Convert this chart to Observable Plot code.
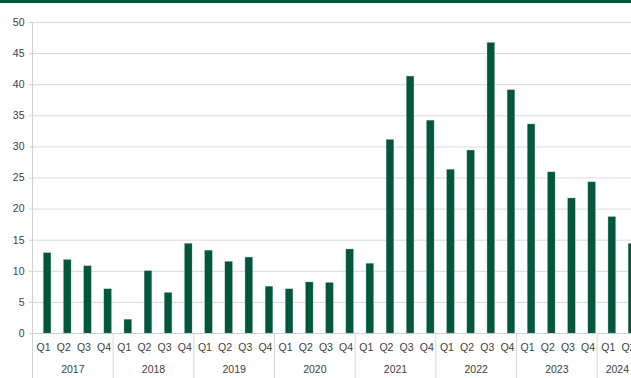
<!DOCTYPE html>
<html><head><meta charset="utf-8">
<script src="https://cdn.jsdelivr.net/npm/d3@7"></script>
<script src="https://cdn.jsdelivr.net/npm/@observablehq/plot@0.6"></script>
<style>
html,body{margin:0;padding:0;background:#fff;overflow:hidden;width:631px;height:378px}
#topbar{height:3px;background:#00573c;width:631px}
#chart svg{display:block}
</style></head><body>
<div id="topbar"></div>
<div id="chart"></div>
<script>
const years = ["2017","2018","2019","2020","2021","2022","2023","2024"];
const quarters = ["Q1","Q2","Q3","Q4"];
const values = [
  12.9, 11.8, 10.8, 7.1,
  2.2, 10.0, 6.5, 14.4,
  13.3, 11.5, 12.2, 7.5,
  7.1, 8.2, 8.1, 13.5,
  11.2, 31.1, 41.3, 34.2,
  26.3, 29.4, 46.7, 39.1,
  33.6, 25.9, 21.7, 24.3,
  18.7, 14.4
];
const yTicks = [0,5,10,15,20,25,30,35,40,45,50];

const green = "#00573c";
const rows = values.map((v, i) => ({
  i, value: v,
  quarter: quarters[i % 4],
  year: years[Math.floor(i / 4)]
}));
const yearRows = years.map((y, k) => {
  const n = rows.filter(r => r.year === y).length;
  return {year: y, start: k * 4, center: k * 4 + n / 2};
});
const nCats = 30;
const font = "'Liberation Sans', Arial, sans-serif";

const chart = Plot.plot({
  width: 631,
  height: 375,
  marginLeft: 32,
  marginRight: 0,
  marginTop: 19,
  marginBottom: 45,
  style: {fontFamily: font, fontSize: "10.5px", color: "#404040", background: "#fff", overflow: "hidden"},
  x: {type: "linear", domain: [0, nCats], range: [32, 637], axis: null},
  y: {domain: [0, 50], ticks: yTicks, axis: null},
  marks: [
    Plot.ruleY(yTicks.filter(t => t > 0), {x1: 0, x2: nCats, stroke: "#d9d9d9", strokeWidth: 1}),
    Plot.ruleY([0], {x1: 0, x2: nCats, stroke: "#d0d0d0", strokeWidth: 1}),
    Plot.axisY({ticks: yTicks, tickSize: 3, tickPadding: 5, stroke: "#d0d0d0", fill: "#404040", label: null, fontSize: 10.5}),
    Plot.ruleX([0], {y1: 50, y2: -7.4, stroke: "#d0d0d0", strokeWidth: 1}),
    Plot.ruleX(yearRows.filter(d => d.start > 0), {x: "start", y1: 0, y2: -7.4, stroke: "#d9d9d9", strokeWidth: 1}),
    Plot.rectY(rows, {x1: d => d.i + 0.565, x2: d => d.i + 0.935, y1: 0, y2: "value", fill: green, stroke: "#6f9a86", strokeWidth: 0.5, strokeOpacity: 0.6}),
    Plot.text(rows, {x: d => d.i + 0.55, text: "quarter", frameAnchor: "bottom", dy: 17, fill: "#404040", fontSize: 10.5}),
    Plot.text(yearRows, {x: "center", text: "year", frameAnchor: "bottom", dy: 39, fill: "#404040", fontSize: 10.5})
  ]
});
document.getElementById("chart").appendChild(chart);
</script>
</body></html>
